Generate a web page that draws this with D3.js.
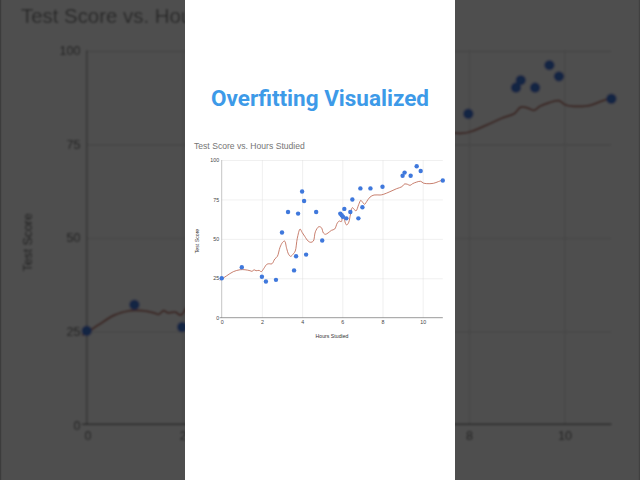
<!DOCTYPE html>
<html>
<head>
<meta charset="utf-8">
<script src="https://cdn.jsdelivr.net/npm/d3@7"></script>
<style>
  html, body { margin: 0; padding: 0; background: #4e4e4e; }
  svg { display: block; }
</style>
</head>
<body>
<div id="chart"></div>
<script>
// scatter data
var hours  = [0, 1, 2, 2.2, 2.7, 3, 3.3, 3.6, 3.7, 3.8, 4, 4.1, 4.2, 4.7, 5,
              5.9, 5.97, 6.03, 6.1, 6.2, 6.4, 6.5, 6.8, 6.9, 7, 7.4, 8,
              9, 9.1, 9.4, 9.7, 9.9, 11]
var scores = [25, 32, 26, 23, 24, 54, 67, 30, 39, 66, 80, 74, 40, 67, 49,
              66, 65, 64, 69, 63, 67, 75, 63, 82, 70, 82, 83,
              90, 92, 90, 96, 93, 87]

// the wiggly overfit curve
var fitHours  = [-0.1, 0, 0.25, 0.58, 0.91, 1.16, 1.41, 1.51, 1.61, 1.71, 1.86, 1.97,
                 2.1, 2.24, 2.34, 2.5, 2.64, 2.77, 2.9, 3.03, 3.13, 3.23, 3.33, 3.43,
                 3.57, 3.66, 3.76, 3.9, 4.0, 4.13, 4.3, 4.43, 4.56, 4.66, 4.83, 4.96,
                 5.06, 5.16, 5.29, 5.46, 5.62, 5.75, 5.85, 5.95, 6.02, 6.09, 6.15, 6.22,
                 6.32, 6.4, 6.5, 6.58, 6.68, 6.82, 6.92, 7.01, 7.11, 7.21, 7.38, 7.58,
                 7.88, 8.04, 8.37, 8.7, 8.97, 9.1, 9.24, 9.37, 9.5, 9.7, 9.9, 10.03,
                 10.2, 10.53, 10.78, 11]
var fitScores = [23.8, 24.5, 26.6, 29.2, 30.4, 30.4, 29.8, 29.4, 30.4, 29.8, 30.0, 29.2,
                 31.3, 33.8, 34.2, 34.2, 37.2, 38.9, 44.6, 47.8, 48.6, 44, 40.2, 38.9,
                 40.6, 42.3, 50.3, 56.2, 54.1, 51.6, 48.6, 47.8, 48.6, 54.5, 57.7, 57.1,
                 53.7, 52.9, 53.7, 55.4, 56.2, 60, 61.3, 60.9, 64.3, 63, 60, 58.8,
                 60.5, 65.1, 69.8, 68.9, 67.7, 71.9, 74.4, 73.2, 71.9, 73.6, 76.5, 77.8,
                 77.8, 78.2, 79.9, 81.8, 83.1, 84.8, 84.6, 83.9, 85, 86, 86.5, 85.4,
                 85, 85.2, 86.3, 87.3]

var xTicks = [0, 2, 4, 6, 8, 10]
var yTicks = [0, 25, 50, 75, 100]

var W = 640, H = 480
var panelX = 185, panelW = 270
var zoomK = 2.373   // how much the blurred backdrop is blown up

var svg = d3.select("#chart").append("svg")
  .attr("width", W)
  .attr("height", H)

var defs = svg.append("defs")
defs.append("filter").attr("id", "soft")
  .append("feGaussianBlur").attr("stdDeviation", 0.35)

// scales for the small chart (backdrop is the same thing scaled up)
var x = d3.scaleLinear().domain([0, 11]).range([221.7, 442.8])
var y = d3.scaleLinear().domain([0, 100]).range([317.7, 160])

function drawChart(g) {
  g.append("rect")
    .attr("x", panelX).attr("y", 0)
    .attr("width", panelW).attr("height", H)
    .attr("fill", "#fff")

  g.append("text")
    .attr("x", 194).attr("y", 148.5)
    .attr("font-family", "Liberation Sans, Arial, sans-serif")
    .attr("font-size", 8.6)
    .attr("fill", "#757575")
    .text("Test Score vs. Hours Studied")

  // gridlines
  g.append("g")
    .attr("transform", "translate(0," + y(0) + ")")
    .call(d3.axisBottom(x).tickValues(xTicks.filter(function(d){return d>0})).tickSize(-(y(0)-y(100))).tickFormat(""))
    .call(function(a){ a.select(".domain").remove() })
    .selectAll("line").attr("stroke", "#dedede").attr("stroke-width", 0.45)
  g.append("g")
    .attr("transform", "translate(" + x(0) + ",0)")
    .call(d3.axisLeft(y).tickValues(yTicks.filter(function(d){return d>0})).tickSize(-(x(11)-x(0))).tickFormat(""))
    .call(function(a){ a.select(".domain").remove() })
    .selectAll("line").attr("stroke", "#dedede").attr("stroke-width", 0.45)

  // baselines
  g.append("line")
    .attr("x1", x(0)).attr("x2", x(0))
    .attr("y1", y(100)).attr("y2", y(0))
    .attr("stroke", "#8a8a8a").attr("stroke-width", 0.5)
  g.append("line")
    .attr("x1", x(0) - 2).attr("x2", x(11))
    .attr("y1", y(0)).attr("y2", y(0))
    .attr("stroke", "#444").attr("stroke-width", 0.55)

  // tick labels
  var ya = g.append("g")
    .attr("transform", "translate(" + x(0) + ",0)")
    .call(d3.axisLeft(y).tickValues(yTicks).tickSize(0).tickPadding(2.6))
  ya.select(".domain").remove()
  ya.selectAll("text")
    .attr("font-family", "Liberation Sans, Arial, sans-serif")
    .attr("font-size", 5.3).attr("fill", "#444")

  var xa = g.append("g")
    .attr("transform", "translate(0," + y(0) + ")")
    .call(d3.axisBottom(x).tickValues(xTicks).tickSize(0).tickPadding(3))
  xa.select(".domain").remove()
  xa.selectAll("text")
    .attr("font-family", "Liberation Sans, Arial, sans-serif")
    .attr("font-size", 5.3).attr("fill", "#444")

  g.append("text")
    .attr("transform", "translate(198.8," + 241 + ") rotate(-90)")
    .attr("text-anchor", "middle")
    .attr("font-family", "Liberation Sans, Arial, sans-serif")
    .attr("font-size", 5.2).attr("fill", "#333")
    .text("Test Score")

  g.append("text")
    .attr("x", 332).attr("y", 338)
    .attr("text-anchor", "middle")
    .attr("font-family", "Liberation Sans, Arial, sans-serif")
    .attr("font-size", 5.2).attr("fill", "#333")
    .text("Hours Studied")

  var line = d3.line()
    .x(function(d){ return x(d[0]) })
    .y(function(d){ return y(d[1]) })
    .curve(d3.curveCatmullRom)

  g.append("path")
    .datum(d3.zip(fitHours, fitScores))
    .attr("d", line)
    .attr("fill", "none")
    .attr("stroke", "#b5553f")
    .attr("stroke-width", 0.75)

  g.selectAll("circle.pt")
    .data(d3.zip(hours, scores))
    .enter().append("circle")
    .attr("class", "pt")
    .attr("cx", function(d){ return x(d[0]) })
    .attr("cy", function(d){ return y(d[1]) })
    .attr("r", 2.2)
    .attr("fill", "#3f78dc")
}

// blurred, darkened, zoomed copy behind
var bg = svg.append("g")
  .attr("transform", "translate(320,240) scale(" + zoomK + ") translate(-320,-240)")
  .attr("filter", "url(#soft)")
drawChart(bg)

svg.append("rect")
  .attr("width", W).attr("height", H)
  .attr("fill", "#000").attr("opacity", 0.695)

// the sharp one on top
var fg = svg.append("g")
drawChart(fg)

fg.append("text")
  .attr("x", 320).attr("y", 106)
  .attr("text-anchor", "middle")
  .attr("font-family", "Roboto, sans-serif")
  .attr("font-weight", "bold")
  .attr("font-size", 22.5)
  .attr("fill", "#3d9ae8")
  .text("Overfitting Visualized")
</script>
</body>
</html>
